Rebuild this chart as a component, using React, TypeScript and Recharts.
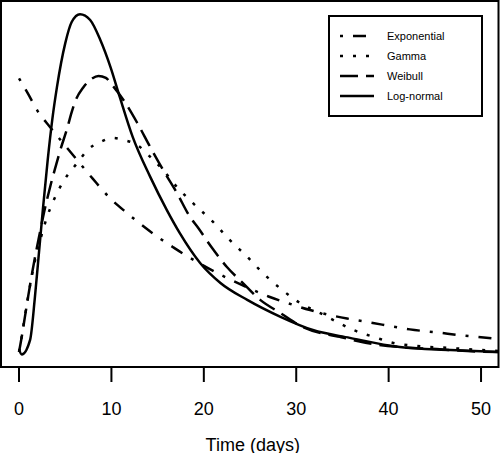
import { Legend, Line, LineChart, ReferenceArea, XAxis, YAxis } from "recharts";

// fitted onset-to-event densities (days vs density)
const xTicks = [0, 10, 20, 30, 40, 50];

const expDays = [0, 1, 2, 3.35, 4.76, 6.28, 8, 9.85, 11.7, 13.1, 14.9, 16.7, 18.2, 19.6, 21.75, 24.7, 27, 28.8, 31.5, 33.7, 35.5, 38.3, 40.5, 42.3, 45.6, 47.4, 49.6, 51.9];
const expDensity = [0.0812, 0.0765, 0.0716, 0.0668, 0.0621, 0.0571, 0.0515, 0.0458, 0.0414, 0.0383, 0.0346, 0.0313, 0.0287, 0.0265, 0.0233, 0.0195, 0.0168, 0.0151, 0.0128, 0.0113, 0.0103, 0.009, 0.0079, 0.0071, 0.0061, 0.0055, 0.0049, 0.0043];

const gammaDays = [0, 0.2, 0.55, 1.0, 1.5, 2.3, 3.0, 3.8, 4.9, 6.3, 7.4, 8.8, 10.1, 11.3, 12.8, 14.2, 15.6, 17.1, 18.8, 21.0, 22.8, 24.7, 26.4, 28.5, 30.4, 32.6, 34.4, 36.2, 38.7, 40.5, 43.1, 46.7, 51.9];
const gammaDensity = [0.0005, 0.0035, 0.0095, 0.017, 0.0245, 0.0335, 0.04, 0.0455, 0.0512, 0.0562, 0.06, 0.0624, 0.0636, 0.063, 0.0615, 0.058, 0.0541, 0.0491, 0.0444, 0.0388, 0.0335, 0.0285, 0.0237, 0.0187, 0.0149, 0.0119, 0.0093, 0.0069, 0.0046, 0.0031, 0.0022, 0.0016, 0.0007];

const weibullDays = [0, 0.3, 0.65, 1.0, 1.5, 2.1, 2.7, 3.4, 4.0, 4.5, 5.2, 5.7, 6.1, 6.95, 7.9, 8.6, 9.4, 10.2, 11.3, 12.8, 14.2, 15.6, 17.1, 18.5, 19.4, 20.9, 22.5, 24.1, 26.1, 28.3, 30.7, 34.7, 38.3, 41.6, 45.2, 48.5, 51.9];
const weibullDensity = [0.0004, 0.005, 0.011, 0.017, 0.025, 0.0335, 0.0415, 0.0495, 0.0555, 0.0603, 0.0663, 0.0712, 0.0745, 0.0785, 0.0811, 0.0819, 0.0813, 0.0788, 0.0748, 0.068, 0.0609, 0.0541, 0.0473, 0.0403, 0.037, 0.0311, 0.0255, 0.0211, 0.0158, 0.0119, 0.0078, 0.0049, 0.0028, 0.0018, 0.0013, 0.0007, 0.0004];

const lognormDays = [0, 0.3, 1.2, 1.7, 2.1, 2.6, 3.1, 3.6, 4.1, 5.0, 5.7, 6.6, 7.7, 8.8, 9.9, 10.9, 12.3, 14.2, 16.0, 17.4, 19.6, 21.8, 24.7, 28.3, 31.8, 35.8, 41.2, 46.7, 51.9];
const lognormDensity = [0.0012, -0.0003, 0.004, 0.016, 0.028, 0.043, 0.057, 0.069, 0.0785, 0.0915, 0.0978, 0.1001, 0.0984, 0.0925, 0.0845, 0.0757, 0.0639, 0.0521, 0.0423, 0.0355, 0.0267, 0.0208, 0.0158, 0.0108, 0.0069, 0.0046, 0.0019, 0.001, 0.0004];

const X_DOMAIN: [number, number] = [-1.95, 51.89];
const Y_DOMAIN: [number, number] = [-0.004, 0.104];
const FONT = "'Liberation Sans', Arial, sans-serif";

const series = [
  { name: "Exponential", days: expDays, density: expDensity, dash: "3 10 13 10" },
  { name: "Gamma", days: gammaDays, density: gammaDensity, dash: "3 10" },
  { name: "Weibull", days: weibullDays, density: weibullDensity, dash: "18 8" },
  { name: "Log-normal", days: lognormDays, density: lognormDensity, dash: undefined },
];

function toPoints(days: number[], density: number[]) {
  return days.map((t, i) => ({ t, v: density[i] }));
}

function LegendBox() {
  return (
    <svg width={155} height={103} style={{ display: "block" }}>
      <rect x={1} y={1} width={153} height={100} fill="#fff" stroke="#000" strokeWidth={2} />
      {series.map((s, i) => {
        const y = 21 + i * 20;
        return (
          <g key={s.name}>
            <line x1={12} x2={46} y1={y} y2={y} stroke="#000" strokeWidth={2.5} strokeDasharray={s.dash} />
            <text x={59} y={y + 4} fontSize={11} fontFamily={FONT} fill="#000">
              {s.name}
            </text>
          </g>
        );
      })}
    </svg>
  );
}

export default function App() {
  return (
    <div style={{ position: "absolute", left: 0, top: 0, width: 500, height: 453, background: "#fff" }}>
      <LineChart
        width={500}
        height={453}
        margin={{ top: 1, right: 1.5, bottom: 0, left: 1 }}
        style={{ fontFamily: FONT }}
      >
        <XAxis
          dataKey="t"
          type="number"
          domain={X_DOMAIN}
          allowDataOverflow
          ticks={xTicks}
          interval={0}
          height={86}
          axisLine={false}
          tickSize={15}
          tickMargin={20}
          tickLine={{ stroke: "#000", strokeWidth: 2 }}
          tick={{ fill: "#000", fontSize: 18 }}
          label={{ value: "Time (days)", position: "insideBottom", offset: 2.5, dx: 3, fill: "#000", fontSize: 18 }}
        />
        <YAxis type="number" domain={Y_DOMAIN} allowDataOverflow hide width={0} />
        {series.map((s) => (
          <Line
            key={s.name}
            name={s.name}
            data={toPoints(s.days, s.density)}
            dataKey="v"
            type="monotone"
            stroke="#000"
            strokeWidth={2.5}
            strokeDasharray={s.dash}
            dot={false}
            activeDot={false}
            isAnimationActive={false}
          />
        ))}
        <ReferenceArea
          x1={X_DOMAIN[0]}
          x2={X_DOMAIN[1]}
          y1={Y_DOMAIN[0]}
          y2={Y_DOMAIN[1]}
          fill="none"
          stroke="#000"
          strokeWidth={2}
          ifOverflow="visible"
        />
        <Legend
          layout="vertical"
          align="center"
          verticalAlign="middle"
          content={() => <LegendBox />}
          wrapperStyle={{ left: 328, top: 15, width: 155, height: 103 }}
        />
      </LineChart>
    </div>
  );
}
